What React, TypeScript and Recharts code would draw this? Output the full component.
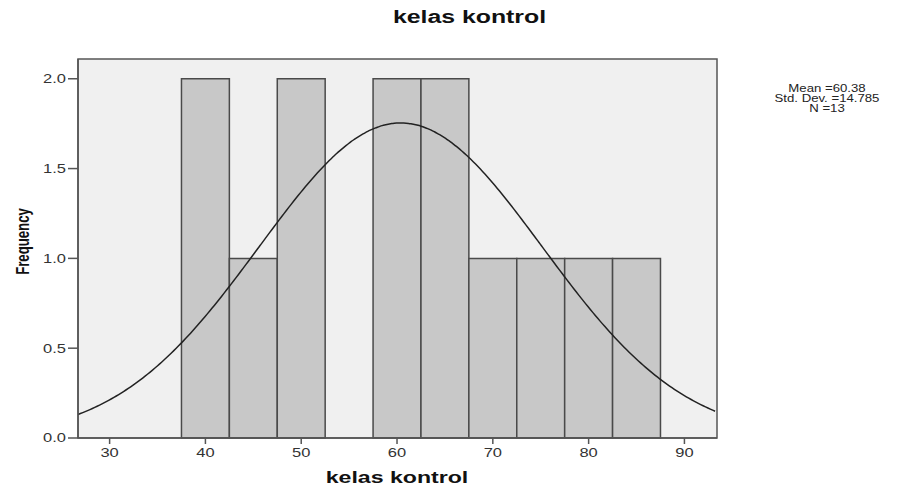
import React from 'react';
import { ComposedChart, Line, XAxis, YAxis, ReferenceArea } from 'recharts';

// Histogram bins (lower edge) and frequencies
const binStarts = [37.5, 42.5, 47.5, 52.5, 57.5, 62.5, 67.5, 72.5, 77.5, 82.5];
const binCounts = [2, 1, 2, 0, 2, 2, 1, 1, 1, 1];
const binWidth = 5;

// Axis ticks and ranges
const xTicks = [30, 40, 50, 60, 70, 80, 90];
const yTicks = [0, 0.5, 1.0, 1.5, 2.0];
const xDomain = [26.7, 93.4];
const yDomain = [0, 2.11];

// Summary statistics shown in the legend (define the fitted normal curve)
const meanValue = 60.38;
const stdDevValue = 14.785;
const nValue = 13;
const legendLines = ['Mean =60.38', 'Std. Dev. =14.785', 'N =13'];

const titleText = 'kelas kontrol';
const xLabelText = 'kelas kontrol';
const yLabelText = 'Frequency';

// Normal curve scaled to frequency: N * binWidth * pdf(x)
const curveX: number[] = [];
for (let v = xDomain[0]; v <= xDomain[1] + 1e-9; v += 0.25) curveX.push(Math.round(v * 100) / 100);
const curveData = curveX.map((x) => {
  const z = (x - meanValue) / stdDevValue;
  return {
    x,
    y: (nValue * binWidth * Math.exp(-0.5 * z * z)) / (stdDevValue * Math.sqrt(2 * Math.PI)),
  };
});

const FONT = 'Arial, "Liberation Sans", Helvetica, sans-serif';
const STRETCH = 1.32;

const XTick = (props: any) => {
  const { x, y, payload } = props;
  return (
    <g transform={`translate(${x},${y}) scale(${STRETCH},1)`}>
      <text textAnchor="middle" dy="0.71em" fontSize={12.5} fontFamily={FONT} fill="#333">
        {payload.value}
      </text>
    </g>
  );
};

const YTick = (props: any) => {
  const { x, y, payload } = props;
  return (
    <g transform={`translate(${x},${y}) scale(${STRETCH},1)`}>
      <text textAnchor="end" dy="0.355em" fontSize={12.5} fontFamily={FONT} fill="#333">
        {Number(payload.value).toFixed(1)}
      </text>
    </g>
  );
};

export default function App() {
  return (
    <div style={{ position: 'absolute', left: 0, top: 0, width: 900, height: 489, background: '#fff' }}>
      <ComposedChart
        width={900}
        height={489}
        data={curveData}
        margin={{ top: 59, right: 183, bottom: 21, left: 0 }}
      >
        <XAxis
          dataKey="x"
          type="number"
          domain={xDomain}
          allowDataOverflow
          ticks={xTicks}
          tickSize={6}
          tickMargin={4}
          height={30}
          axisLine={{ stroke: '#555', strokeWidth: 1.5 }}
          tickLine={{ stroke: '#555', strokeWidth: 1.5 }}
          tick={<XTick />}
          interval={0}
        />
        <YAxis
          type="number"
          domain={yDomain}
          allowDataOverflow
          ticks={yTicks}
          tickSize={10}
          tickMargin={2}
          width={78}
          axisLine={{ stroke: '#555', strokeWidth: 1.5 }}
          tickLine={{ stroke: '#555', strokeWidth: 1.5 }}
          tick={<YTick />}
          interval={0}
        />
        <ReferenceArea
          x1={xDomain[0]}
          x2={xDomain[1]}
          y1={yDomain[0]}
          y2={yDomain[1]}
          fill="#f0f0f0"
          fillOpacity={1}
          stroke="none"
        />
        {binStarts.map((start, i) =>
          binCounts[i] > 0 ? (
            <ReferenceArea
              key={start}
              x1={start}
              x2={start + binWidth}
              y1={0}
              y2={binCounts[i]}
              fill="#c8c8c8"
              fillOpacity={1}
              stroke="#4a4a4a"
              strokeWidth={1.5}
            />
          ) : null
        )}
        <Line
          type="monotone"
          dataKey="y"
          stroke="#222"
          strokeWidth={1.5}
          dot={false}
          activeDot={false}
          isAnimationActive={false}
        />
        <ReferenceArea
          x1={xDomain[0]}
          x2={xDomain[1]}
          y1={yDomain[0]}
          y2={yDomain[1]}
          fill="none"
          stroke="#555"
          strokeWidth={1.5}
        />
      </ComposedChart>
      <svg
        width={900}
        height={489}
        style={{ position: 'absolute', left: 0, top: 0, pointerEvents: 'none' }}
      >
        <g transform={`translate(469.5,22.5) scale(1.38,1)`}>
          <text textAnchor="middle" fontSize={18} fontWeight="bold" fontFamily={FONT} fill="#111">
            {titleText}
          </text>
        </g>
        <g transform={`translate(397,483) scale(1.36,1)`}>
          <text textAnchor="middle" fontSize={17} fontWeight="bold" fontFamily={FONT} fill="#111">
            {xLabelText}
          </text>
        </g>
        <g transform={`translate(28.5,241.5) scale(1.4,1) rotate(-90)`}>
          <text textAnchor="middle" fontSize={13.2} fontWeight="bold" fontFamily={FONT} fill="#111">
            {yLabelText}
          </text>
        </g>
        {legendLines.map((line, i) => (
          <g key={line} transform={`translate(827,${92 + i * 10}) scale(1.32,1)`}>
            <text textAnchor="middle" fontSize={10} fontFamily={FONT} fill="#222">
              {line}
            </text>
          </g>
        ))}
      </svg>
    </div>
  );
}
